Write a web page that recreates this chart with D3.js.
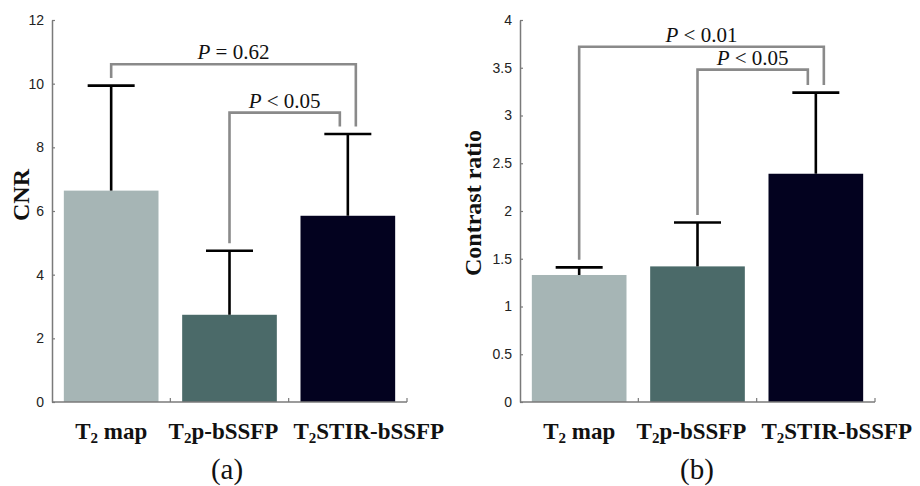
<!DOCTYPE html>
<html>
<head>
<meta charset="utf-8">
<script src="https://cdn.jsdelivr.net/npm/d3@7/dist/d3.min.js"></script>
<style>
  html, body { margin: 0; padding: 0; background: #fff; }
  svg { display: block; }
</style>
</head>
<body>
<svg id="chart" width="920" height="486"></svg>
<script>
// ---------- data ----------
const categories = ["T2 map", "T2p-bSSFP", "T2STIR-bSSFP"];
const labelParts = [["T", "2", " map"], ["T", "2", "p-bSSFP"], ["T", "2", "STIR-bSSFP"]];

const cnrMean = [6.64, 2.74, 5.85];
const cnrSD   = [3.30, 2.01, 2.57];
const cnrTicks = [0, 2, 4, 6, 8, 10, 12];
const cnrBrackets = [
  { from: 0, to: 2, level: 10.61, op: " = 0.62" },
  { from: 1, to: 2, level: 9.09,  op: " < 0.05" }
];

const crMean = [1.33, 1.42, 2.39];
const crSD   = [0.08, 0.46, 0.85];
const crTicks = [0, 0.5, 1, 1.5, 2, 2.5, 3, 3.5, 4];
const crBrackets = [
  { from: 0, to: 2, level: 3.72, op: " < 0.01" },
  { from: 1, to: 2, level: 3.48, op: " < 0.05" }
];

const barColors = ["#a6b5b5", "#4b6a69", "#03021f"];

// ---------- drawing ----------
const svg = d3.select("#chart");
const serif = "'Liberation Serif', 'Times New Roman', serif";
const sans = "'Liberation Sans', Arial, sans-serif";

function panel(opts) {
  const g = svg.append("g");
  const x = d3.scaleBand().domain(categories).range([opts.x0, opts.x1])
    .paddingInner(0.2).paddingOuter(0.1);
  const y = d3.scaleLinear().domain([0, opts.yMax]).range([402, 20]);
  const step = x.step();

  // bars
  g.selectAll("rect.bar").data(categories).join("rect")
    .attr("x", d => x(d)).attr("width", x.bandwidth())
    .attr("y", (d, i) => y(opts.mean[i]))
    .attr("height", (d, i) => y(0) - y(opts.mean[i]))
    .attr("fill", (d, i) => barColors[i]);

  // error bars
  const capHalf = 23.5;
  categories.forEach((c, i) => {
    const cx = x(c) + x.bandwidth() / 2;
    const top = y(opts.mean[i] + opts.sd[i]);
    g.append("line").attr("x1", cx).attr("x2", cx)
      .attr("y1", y(opts.mean[i])).attr("y2", top)
      .attr("stroke", "#000").attr("stroke-width", 2.6);
    g.append("line").attr("x1", cx - capHalf).attr("x2", cx + capHalf)
      .attr("y1", top).attr("y2", top)
      .attr("stroke", "#000").attr("stroke-width", 2.6);
  });

  // y axis
  const yAxis = d3.axisLeft(y).tickValues(opts.ticks).tickSize(-3).tickSizeOuter(0)
    .tickPadding(8).tickFormat(d3.format("~g"));
  const ya = g.append("g").attr("transform", `translate(${opts.x0},0)`).call(yAxis);
  ya.select(".domain").attr("stroke", "#7a7a7a").attr("stroke-width", 1.5);
  ya.selectAll(".tick line").attr("stroke", "#7a7a7a").attr("stroke-width", 1.2);
  ya.selectAll(".tick text").attr("font-family", sans).attr("font-size", 14).attr("fill", "#222");

  // x axis line and ticks at band boundaries
  g.append("line").attr("x1", opts.x0).attr("x2", opts.x1)
    .attr("y1", y(0)).attr("y2", y(0))
    .attr("stroke", "#7a7a7a").attr("stroke-width", 1.5);
  categories.forEach((c, i) => {
    const bx = x(c) + x.bandwidth() + step * 0.1;
    g.append("line").attr("x1", bx).attr("x2", bx)
      .attr("y1", y(0)).attr("y2", y(0) - 4)
      .attr("stroke", "#7a7a7a").attr("stroke-width", 1.2);
  });

  // x labels
  const dxs = [0, -6, 21];
  labelParts.forEach((p, i) => {
    const t = g.append("text")
      .attr("x", x(categories[i]) + x.bandwidth() / 2 + dxs[i]).attr("y", 439)
      .attr("text-anchor", "middle")
      .attr("font-family", serif).attr("font-weight", "bold").attr("font-size", 23)
      .attr("fill", "#111");
    t.append("tspan").text(p[0]);
    t.append("tspan").attr("font-size", 15).attr("dy", 4).text(p[1]);
    t.append("tspan").attr("dy", -4).text(p[2]);
  });

  // y title
  g.append("text")
    .attr("transform", `translate(${opts.titleX},${opts.titleY}) rotate(-90)`)
    .attr("text-anchor", "middle").attr("dominant-baseline", "central")
    .attr("font-family", serif).attr("font-weight", "bold").attr("font-size", 24)
    .attr("fill", "#111").text(opts.title);

  // caption
  g.append("text").attr("x", opts.capX).attr("y", 479).attr("text-anchor", "middle")
    .attr("font-family", serif).attr("font-size", 29).attr("fill", "#111")
    .text(opts.caption);

  // significance brackets
  opts.brackets.forEach(b => {
    const c1 = x(categories[b.from]) + x.bandwidth() / 2;
    const c2raw = x(categories[b.to]) + x.bandwidth() / 2;
    const c2 = c2raw + (b.from === 0 ? 8 : -8);
    const yTop = y(b.level);
    const leg1 = y(opts.mean[b.from] + opts.sd[b.from]) - 7.5;
    const leg2 = y(opts.mean[b.to] + opts.sd[b.to]) - 7.5;
    g.append("path")
      .attr("d", `M${c1},${leg1}V${yTop}H${c2}V${leg2}`)
      .attr("fill", "none").attr("stroke", "#8a8a8a").attr("stroke-width", 2.6);
    const t = g.append("text").attr("x", (c1 + c2) / 2).attr("y", yTop - 5)
      .attr("text-anchor", "middle").attr("font-family", serif).attr("font-size", 21)
      .attr("fill", "#111");
    t.append("tspan").attr("font-style", "italic").text("P");
    t.append("tspan").text(b.op);
  });
}

panel({ x0: 52, x1: 407, yMax: 12, mean: cnrMean, sd: cnrSD, ticks: cnrTicks,
        brackets: cnrBrackets, title: "CNR", titleX: 21, titleY: 195, caption: "(a)", capX: 227 });
panel({ x0: 520, x1: 875, yMax: 4, mean: crMean, sd: crSD, ticks: crTicks,
        brackets: crBrackets, title: "Contrast ratio", titleX: 473, titleY: 203, caption: "(b)", capX: 697 });
</script>
</body>
</html>
